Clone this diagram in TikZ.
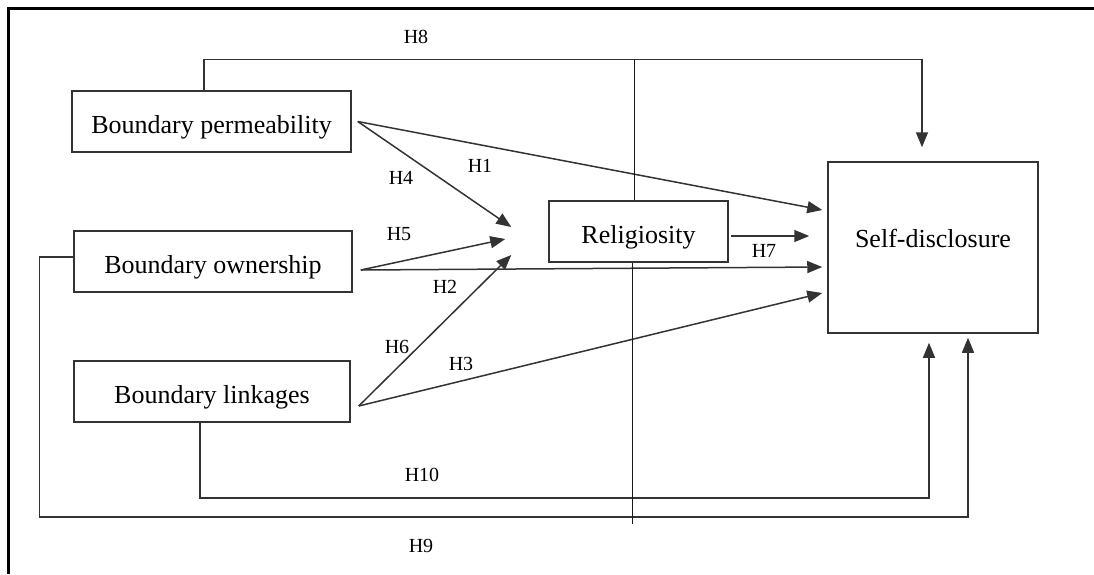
\documentclass[tikz,border=0pt]{standalone}
\usepackage{fontspec}
\setmainfont{Liberation Serif}
\usetikzlibrary{arrows.meta, calc}

\tikzset{
    construct/.style={draw=black!80, line width=1.5pt, inner sep=0pt, text height=23pt, text depth=0pt, font=\fontsize{26}{30}\selectfont},
    hyplabel/.style={inner sep=0pt, font=\fontsize{20}{24}\selectfont},
    hypline/.style={draw=black!80, line width=1.5pt, -{Triangle[length=15pt, width=12pt]}},
}

\begin{document}
\begin{tikzpicture}[x=1pt, y=-1pt]
    \useasboundingbox (0,0) rectangle (1094,574);
    \draw[line width=3pt] (8,574) -- (8,8) -- (1094,8);

    % constructs
    \node[construct, minimum width=279pt, minimum height=61pt] (perm) at (211.5,121.5) {Boundary permeability};
    \node[construct, minimum width=278pt, minimum height=61pt] (own) at (213,261.5) {Boundary ownership};
    \node[construct, minimum width=276pt, minimum height=61pt] (link) at (212,391.5) {Boundary linkages};
    \node[construct, minimum width=179pt, minimum height=61pt] (relig) at (638.5,231.5) {Religiosity};
    \node[construct, minimum width=210pt, minimum height=171pt, text height=12pt, text depth=12pt] (selfdis) at (933,247.5) {Self-disclosure};

    % arrow ends
    \coordinate (permout) at ($(perm.east)+(6,0)$);
    \coordinate (ownout) at ($(own.east)+(8,8.5)$);
    \coordinate (linkout) at ($(link.east)+(8,14.5)$);
    \coordinate (h1end) at ($(selfdis.west)+(-5,-37.5)$);
    \coordinate (h2end) at ($(selfdis.west)+(-5,19.5)$);
    \coordinate (h3end) at ($(selfdis.west)+(-5,45.5)$);
    \coordinate (h4end) at ($(relig.west)+(-37,-4.5)$);
    \coordinate (h5end) at ($(relig.west)+(-43,7.5)$);
    \coordinate (h6end) at ($(relig.west)+(-37,23.5)$);
    \coordinate (h7end) at ($(selfdis.west)+(-18,-11.5)$);
    \coordinate (h8end) at ($(selfdis.north)+(-11,-14)$);
    \coordinate (h9end) at ($(selfdis.south)+(35,4)$);
    \coordinate (h10end) at ($(selfdis.south)+(-4,9)$);

    % hypotheses
    \draw[hypline] (permout) -- (h1end);
    \draw[hypline] (permout) -- (h4end);
    \draw[hypline] (ownout) -- (h5end);
    \draw[hypline] (ownout) -- (h2end);
    \draw[hypline] (linkout) -- (h6end);
    \draw[hypline] (linkout) -- (h3end);
    \draw[hypline] ($(relig.east)+(2,4.5)$) -- (h7end);
    \draw[hypline] ($(perm.north)+(-7.5,0)$) -- ++(0,-31) -| (h8end);
    \draw[hypline] ($(link.south)+(-12,0)$) -- ++(0,75) -| (h10end);
    \draw[hypline] ($(own.west)+(0,-4.5)$) -- ++(-34,0) -- ++(0,260) -| (h9end);

    % moderation line
    \draw[black!90, line width=1.6pt] ($(relig.north)+(-4,0)$) -- ++(0,-141);
    \draw[black!90, line width=1.6pt] ($(relig.south)+(-6,0)$) -- ++(0,261);

    % labels
    \node[hyplabel] (lh1) at (480,166) {H1};
    \node[hyplabel] (lh2) at (445,287) {H2};
    \node[hyplabel] (lh3) at (461,364) {H3};
    \node[hyplabel] (lh4) at (401,178) {H4};
    \node[hyplabel] (lh5) at (399,234) {H5};
    \node[hyplabel] (lh6) at (397,347) {H6};
    \node[hyplabel] (lh7) at (764,251) {H7};
    \node[hyplabel] (lh8) at (416,37) {H8};
    \node[hyplabel] (lh9) at (421,546) {H9};
    \node[hyplabel] (lh10) at (422,475) {H10};
\end{tikzpicture}
\end{document}
